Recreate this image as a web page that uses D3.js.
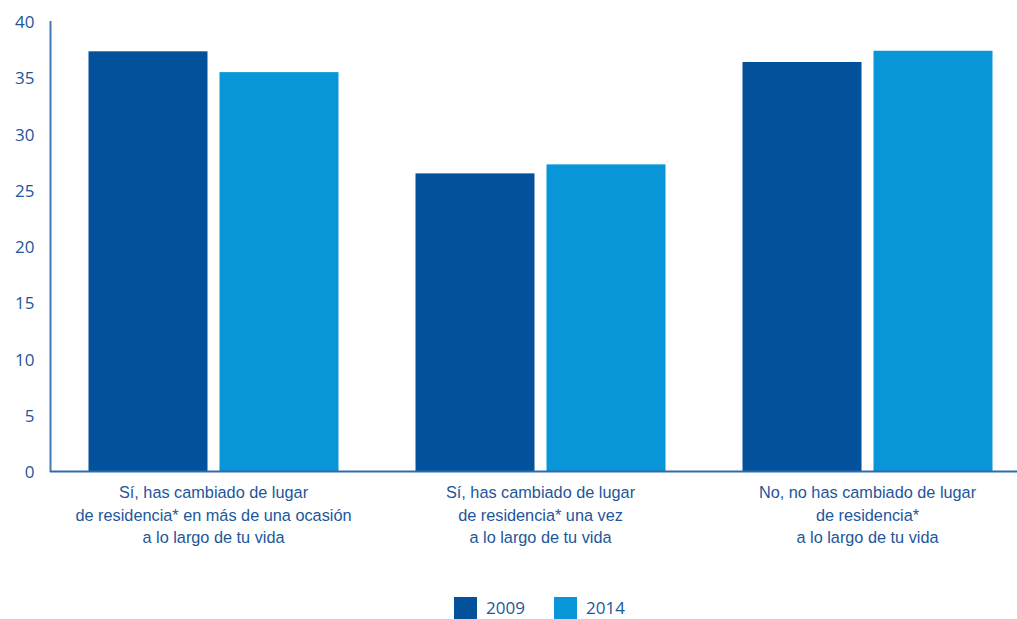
<!DOCTYPE html>
<html><head><meta charset="utf-8">
<script src="https://cdn.jsdelivr.net/npm/d3@7"></script>
<style>body{margin:0;background:#fff}svg{display:block}</style>
</head><body><svg id="c" width="1017" height="619"></svg>
<script>
const categories = [
  ["Sí, has cambiado de lugar","de residencia* en más de una ocasión","a lo largo de tu vida"],
  ["Sí, has cambiado de lugar","de residencia* una vez","a lo largo de tu vida"],
  ["No, no has cambiado de lugar","de residencia*","a lo largo de tu vida"]
];
const seriesNames = ["2009","2014"];
const values2009 = [37.35, 26.5, 36.4];
const values2014 = [35.5, 27.3, 37.4];
const yTicks = [0,5,10,15,20,25,30,35,40];
const colors = ["#03519b","#0896d8"];

const svg = d3.select("#c");
const font = "'Liberation Sans', Arial, sans-serif";
const tickFont = "'Open Sans', 'Liberation Sans', sans-serif";
const textColor = "#1d569a";
const keys = categories.map((c,i)=>"c"+i);
const y = d3.scaleLinear().domain([0,40]).range([471.5,21.5]);
const x0 = d3.scaleBand().domain(keys).range([50,1031]).paddingInner(77/327).paddingOuter(77/654);
const x1 = d3.scaleBand().domain(seriesNames).range([0,x0.bandwidth()]).paddingInner(0.0916).paddingOuter(0);
const series = [values2009, values2014];

const g = svg.append("g");
keys.forEach((k,i)=>{
  seriesNames.forEach((s,j)=>{
    g.append("rect")
      .attr("x", x0(k)+x1(s))
      .attr("y", y(series[j][i]))
      .attr("width", x1.bandwidth())
      .attr("height", y(0)-y(series[j][i]))
      .attr("fill", colors[j]);
  });
});

// y axis
const yAxis = d3.axisLeft(y).tickValues(yTicks).tickSize(0).tickPadding(16);
const ya = svg.append("g").attr("transform","translate(50.5,0)").call(yAxis);
ya.select(".domain").attr("stroke","#3f7cb8").attr("stroke-width",2).attr("d","M0,21V472");
ya.selectAll("text").attr("font-family",tickFont).attr("font-size",17).attr("fill",textColor).attr("text-anchor","end").attr("dy","0.36em");

// x axis line
svg.append("line").attr("x1",50).attr("x2",1017).attr("y1",471.5).attr("y2",471.5)
  .attr("stroke","#2f6aaa").attr("stroke-width",2);

// category labels
keys.forEach((k,i)=>{
  const cx = x0(k)+x0.bandwidth()/2;
  const t = svg.append("text").attr("text-anchor","middle")
    .attr("font-family",font).attr("font-size",16.3).attr("fill",textColor);
  categories[i].forEach((line,li)=>{
    t.append("tspan").attr("x",cx).attr("y",498+li*22.5).text(line);
  });
});

// legend
const legX = [454,554];
seriesNames.forEach((s,j)=>{
  svg.append("rect").attr("x",legX[j]).attr("y",597).attr("width",23).attr("height",22).attr("fill",colors[j]);
  svg.append("text").attr("x",legX[j]+32).attr("y",614).attr("font-family",tickFont).attr("font-size",17)
    .attr("fill",textColor).text(s);
});
</script></body></html>
